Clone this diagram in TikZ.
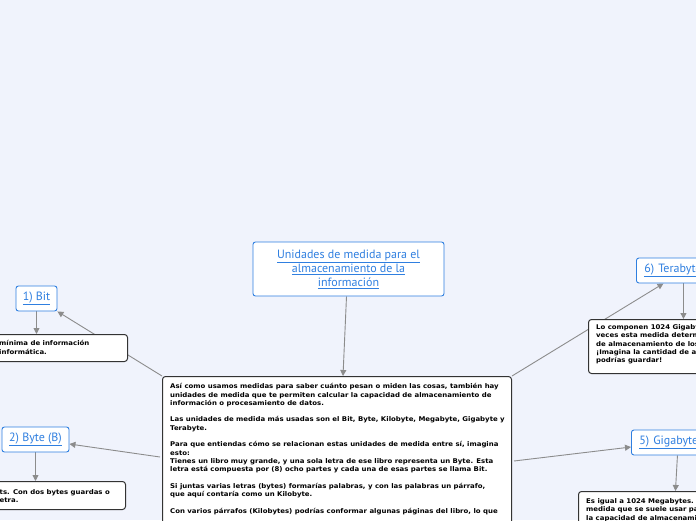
\documentclass[tikz,border=0pt]{standalone}
\usepackage{fontspec}
\setmainfont{DejaVu Sans}
\newfontfamily\bodyfont[FakeStretch=1.07]{DejaVu Sans}
\newfontfamily\titlefont{PT Sans}
\usetikzlibrary{arrows.meta,calc}
\definecolor{bgc}{HTML}{F0F3FC}
\definecolor{topicblue}{HTML}{2F7FE0}
\definecolor{linegray}{HTML}{8C8C8C}
\definecolor{boxline}{HTML}{333333}
\pgfdeclarelayer{bg}
\pgfdeclarelayer{lines}
\pgfsetlayers{bg,lines,main}
\newcommand{\ulx}[1]{\underline{#1}}
\begin{document}
\begin{tikzpicture}[x=1pt,y=-1pt,
  topic/.style={draw=topicblue, fill=white, rounded corners=2.5pt, line width=0.9pt, inner sep=0pt, align=center, text=topicblue, font=\titlefont\fontsize{12}{14}\selectfont},
  sidetopic/.style={topic, anchor=west, align=left, inner xsep=8pt, minimum height=25pt},
  descbox/.style={draw=boxline, fill=white, rounded corners=3pt, line width=1pt, inner sep=0pt},
  desctext/.style={inner sep=0pt, anchor=north west, align=left, font=\bodyfont\bfseries\fontsize{6.5}{8.3}\selectfont},
  conn/.style={draw=linegray, line width=0.9pt, -{Triangle[length=6pt,width=6pt]}}]

\begin{pgfonlayer}{bg}
\fill[bgc] (0,0) rectangle (696,520);
\end{pgfonlayer}
\useasboundingbox (0,0) rectangle (696,520);

% central topic
\node[topic, minimum width=191pt, minimum height=54pt] (title) at (348.5,269)
  {\ulx{Unidades de medida para el}\\\ulx{almacenamiento de la}\\\ulx{información}};

% main text box
\node[descbox, minimum width=349pt, minimum height=220pt, anchor=north west] (main) at (162,376) {};
\node[desctext] (maintext) at (170,383.3) {%
Así como usamos medidas para saber cuánto pesan o miden las cosas, también hay\\
unidades de medida que te permiten calcular la capacidad de almacenamiento de\\
información o procesamiento de datos.\\[8.3pt]
Las unidades de medida más usadas son el Bit, Byte, Kilobyte, Megabyte, Gigabyte y\\
Terabyte.\\[8.3pt]
Para que entiendas cómo se relacionan estas unidades de medida entre sí, imagina\\
esto:\\
Tienes un libro muy grande, y una sola letra de ese libro representa un Byte. Esta\\
letra está compuesta por (8) ocho partes y cada una de esas partes se llama Bit.\\[8.3pt]
Si juntas varias letras (bytes) formarías palabras, y con las palabras un párrafo,\\
que aquí contaría como un Kilobyte.\\[8.3pt]
Con varios párrafos (Kilobytes) podrías conformar algunas páginas del libro, lo que};

% 1) Bit
\node[topic, minimum width=41pt, minimum height=25pt] (bit) at (36.5,298.5) {\ulx{1) Bit}};
\node[descbox, minimum width=250pt, minimum height=27pt, anchor=north east] (bitdesc) at (128,334) {};
\node[desctext] (bittext) at (-1,340.3) {mínima de información\\informática.};

% 2) Byte (B)
\node[topic, minimum width=67pt, minimum height=25pt] (byte) at (35.5,439.5) {\ulx{2) Byte (B)}};
\node[descbox, minimum width=250pt, minimum height=28pt, anchor=north east] (bytedesc) at (126,481) {};
\node[desctext] (bytetext) at (-0.5,489.3) {ts. Con dos bytes guardas o\\etra.};

% 6) Terabyte
\node[sidetopic, text width=78pt] (tera) at (636,270.5) {\ulx{6) Terabyte}};
\node[descbox, minimum width=200pt, minimum height=54pt, anchor=north west] (teradesc) at (588,319) {};
\node[desctext] (teratext) at (596,324.3) {Lo componen 1024 Gigabytes. Muchas\\veces esta medida determina la capacidad\\de almacenamiento de los discos duros.\\¡Imagina la cantidad de archivos que\\podrías guardar!};

% 5) Gigabyte
\node[sidetopic, text width=76pt] (giga) at (631,442.5) {\ulx{5) Gigabyte}};
\node[descbox, minimum width=200pt, minimum height=60pt, anchor=north west] (gigadesc) at (578,491) {};
\node[desctext] (gigatext) at (586,498.3) {Es igual a 1024 Megabytes. Es la\\medida que se suele usar para indicar\\la capacidad de almacenamiento};

\begin{pgfonlayer}{lines}
\draw[conn] ($(title.south)+(-2,0)$) -- ($(main.north)+(6,0)$);
\draw[conn] (main.north west) -- (bit.south east);
\draw[conn] (bit.south) -- (bit.south |- bitdesc.north);
\draw[conn] ($(main.north west)+(-2,81)$) -- ($(byte.east)+(0,4.5)$);
\draw[conn] (byte.south) -- (byte.south |- bytedesc.north);
\draw[conn] (main.north east) -- ($(tera.south)+(-20,0)$);
\draw[conn] (tera.south) -- (tera.south |- teradesc.north);
\draw[conn] ($(main.north east)+(2,85)$) -- ($(giga.west)+(0,4.5)$);
\draw[conn] (giga.south) -- ($(giga.south |- gigadesc.north)+(-2,0)$);
\end{pgfonlayer}
\end{tikzpicture}
\end{document}
